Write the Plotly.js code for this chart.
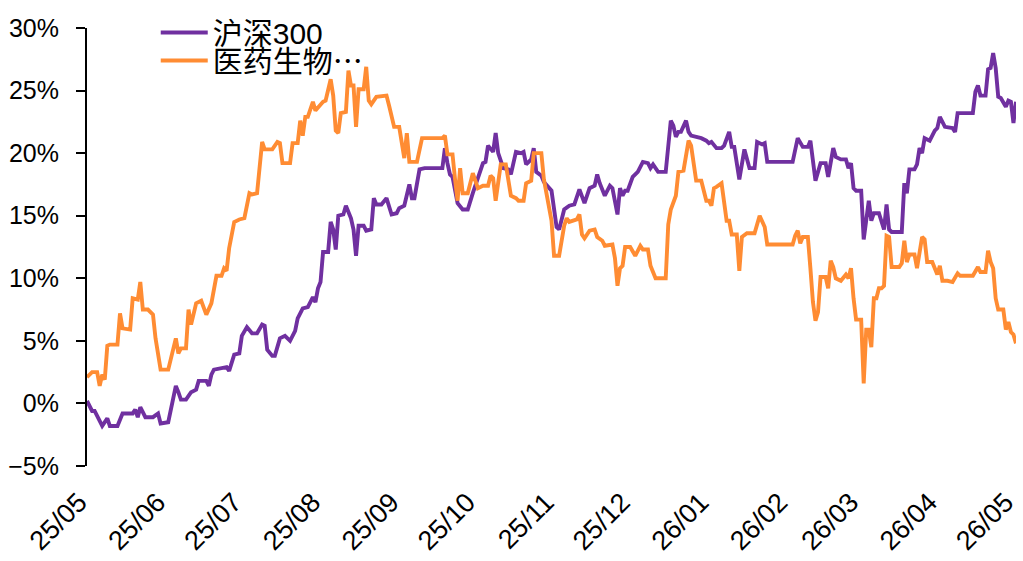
<!DOCTYPE html>
<html>
<head>
<meta charset="utf-8">
<script src="https://cdn.plot.ly/plotly-3.0.1.min.js"></script>
<style>
  html, body { margin: 0; padding: 0; background: #ffffff; }
  #chart { width: 1023px; height: 561px; }
</style>
</head>
<body>
<div id="chart"></div>
<script>
// Cumulative return (%) of the CSI 300 index
const hs300Dates = [
  '2025-05-01','2025-05-03','2025-05-04','2025-05-07','2025-05-09','2025-05-10','2025-05-13','2025-05-15','2025-05-19','2025-05-20',
  '2025-05-21','2025-05-22','2025-05-24','2025-05-27','2025-05-29','2025-05-30','2025-06-02','2025-06-05','2025-06-06','2025-06-07',
  '2025-06-09','2025-06-11','2025-06-13','2025-06-14','2025-06-17','2025-06-18','2025-06-19','2025-06-20','2025-06-25','2025-06-26',
  '2025-06-28','2025-06-30','2025-07-01','2025-07-03','2025-07-05','2025-07-07','2025-07-09','2025-07-10','2025-07-11','2025-07-13',
  '2025-07-14','2025-07-16','2025-07-18','2025-07-20','2025-07-22','2025-07-23','2025-07-25','2025-07-27','2025-07-29','2025-07-30',
  '2025-07-31','2025-08-01','2025-08-02','2025-08-04','2025-08-05','2025-08-06','2025-08-07','2025-08-08','2025-08-10','2025-08-11',
  '2025-08-13','2025-08-14','2025-08-15','2025-08-16','2025-08-18','2025-08-19','2025-08-21','2025-08-22','2025-08-23','2025-08-25',
  '2025-08-27','2025-08-29','2025-08-31','2025-09-01','2025-09-03','2025-09-05','2025-09-06','2025-09-07','2025-09-09','2025-09-11',
  '2025-09-18','2025-09-19','2025-09-20','2025-09-21','2025-09-22','2025-09-23','2025-09-24','2025-09-26','2025-09-28','2025-09-30',
  '2025-10-02','2025-10-04','2025-10-05','2025-10-06','2025-10-08','2025-10-09','2025-10-10','2025-10-12','2025-10-14','2025-10-15',
  '2025-10-17','2025-10-19','2025-10-20','2025-10-21','2025-10-23','2025-10-24','2025-10-25','2025-10-27','2025-10-28','2025-10-29',
  '2025-10-31','2025-11-02','2025-11-03','2025-11-05','2025-11-07','2025-11-09','2025-11-11','2025-11-13','2025-11-15','2025-11-17',
  '2025-11-18','2025-11-19','2025-11-21','2025-11-23','2025-11-24','2025-11-26','2025-11-27','2025-11-28','2025-11-29','2025-11-30',
  '2025-12-02','2025-12-04','2025-12-06','2025-12-08','2025-12-09','2025-12-10','2025-12-12','2025-12-15','2025-12-17','2025-12-18',
  '2025-12-19','2025-12-20','2025-12-21','2025-12-23','2025-12-24','2025-12-25','2025-12-27','2025-12-29','2025-12-31','2026-01-01',
  '2026-01-02','2026-01-04','2026-01-06','2026-01-07','2026-01-09','2026-01-10','2026-01-11','2026-01-13','2026-01-15','2026-01-16',
  '2026-01-17','2026-01-19','2026-01-20','2026-01-22','2026-01-23','2026-01-24','2026-02-03','2026-02-05','2026-02-06','2026-02-07',
  '2026-02-09','2026-02-10','2026-02-12','2026-02-14','2026-02-16','2026-02-17','2026-02-19','2026-02-20','2026-02-22','2026-02-24',
  '2026-02-25','2026-02-26','2026-02-27','2026-02-28','2026-03-02','2026-03-03','2026-03-05','2026-03-06','2026-03-07','2026-03-09',
  '2026-03-11','2026-03-12','2026-03-13','2026-03-14','2026-03-18','2026-03-19','2026-03-20','2026-03-21','2026-03-23','2026-03-24',
  '2026-03-25','2026-03-26','2026-03-27','2026-03-29','2026-03-31','2026-04-01','2026-04-02','2026-04-04','2026-04-07','2026-04-08',
  '2026-04-09','2026-04-15','2026-04-16','2026-04-17','2026-04-18','2026-04-20','2026-04-21','2026-04-22','2026-04-23','2026-04-24',
  '2026-04-25','2026-04-26','2026-04-28','2026-04-29','2026-04-30','2026-05-01','2026-05-02'
];
const hs300Values = [
  0.2,-0.6,-0.6,-1.8,-1.2,-1.8,-1.8,-0.8,-0.8,-0.5,
  -1.1,-0.3,-1.1,-1.1,-0.8,-1.6,-1.5,1.4,0.9,0.3,
  0.3,0.9,1.1,1.8,1.8,1.4,2.3,2.7,2.9,2.6,
  3.9,4.0,5.4,6.1,5.6,5.6,6.3,6.2,4.3,3.8,
  3.8,5.2,5.4,5.0,5.8,6.8,7.6,7.7,8.5,8.1,
  9.2,9.7,12.1,12.1,14.5,13.9,12.3,15.0,15.1,15.8,
  14.8,13.9,11.8,14.2,14.2,13.8,13.9,16.4,15.9,15.9,
  16.4,15.1,15.2,15.6,15.8,17.5,16.4,16.4,18.7,18.8,
  18.8,20.4,19.2,18.3,18.1,16.8,16.0,15.5,15.5,16.8,
  18.0,19.2,19.3,20.6,20.1,21.6,20.0,18.8,18.7,18.3,
  20.1,20.0,20.1,19.1,19.5,20.4,18.5,18.2,17.7,17.5,
  17.0,14.1,13.9,15.5,15.8,15.9,17.1,16.0,17.2,17.4,
  18.3,17.6,16.6,17.4,17.2,15.1,17.2,16.6,17.0,17.0,
  18.1,18.5,19.3,19.2,18.8,19.1,18.5,18.5,22.6,22.2,
  21.3,21.7,21.7,22.6,21.7,21.4,21.3,21.2,21.0,20.8,
  20.9,20.4,20.4,20.6,21.7,20.5,20.5,17.9,20.3,19.5,
  18.8,18.8,20.9,20.7,20.8,19.3,19.3,21.2,20.9,20.5,
  20.5,21.0,17.8,19.2,19.2,18.1,20.4,19.7,19.5,19.5,
  18.8,19.2,17.2,17.0,17.0,13.1,16.2,14.6,15.2,15.2,
  13.9,15.9,13.9,13.7,13.7,17.6,16.8,18.7,18.7,19.1,
  20.4,20.0,21.2,21.0,21.8,22.0,22.9,22.1,22.0,21.7,
  23.2,23.2,24.9,25.4,24.6,24.6,26.7,26.8,28.0,26.8,
  24.5,24.4,23.7,24.2,24.1,22.4,24.1
];

// Cumulative return (%) of the pharma & biotech sector index
const medDates = [
  '2025-05-01','2025-05-03','2025-05-05','2025-05-06','2025-05-07','2025-05-08','2025-05-09','2025-05-10','2025-05-13','2025-05-14',
  '2025-05-15','2025-05-18','2025-05-19','2025-05-21','2025-05-22','2025-05-23','2025-05-25','2025-05-27','2025-05-28','2025-05-30',
  '2025-06-02','2025-06-04','2025-06-05','2025-06-06','2025-06-07','2025-06-09','2025-06-10','2025-06-11','2025-06-13','2025-06-15',
  '2025-06-17','2025-06-19','2025-06-21','2025-06-23','2025-06-24','2025-06-25','2025-06-26','2025-06-28','2025-06-30','2025-07-02',
  '2025-07-04','2025-07-05','2025-07-07','2025-07-09','2025-07-10','2025-07-13','2025-07-15','2025-07-16','2025-07-17','2025-07-20',
  '2025-07-21','2025-07-23','2025-07-24','2025-07-25','2025-07-26','2025-07-27','2025-07-29','2025-07-30','2025-08-02','2025-08-03',
  '2025-08-05','2025-08-06','2025-08-07','2025-08-08','2025-08-09','2025-08-11','2025-08-12','2025-08-13','2025-08-14','2025-08-15',
  '2025-08-16','2025-08-18','2025-08-19','2025-08-20','2025-08-21','2025-08-23','2025-08-27','2025-08-28','2025-08-30','2025-09-01',
  '2025-09-02','2025-09-03','2025-09-04','2025-09-05','2025-09-08','2025-09-10','2025-09-18','2025-09-19','2025-09-20','2025-09-22',
  '2025-09-23','2025-09-24','2025-09-25','2025-09-26','2025-09-28','2025-09-30','2025-10-02','2025-10-04','2025-10-06','2025-10-07',
  '2025-10-08','2025-10-09','2025-10-11','2025-10-13','2025-10-15','2025-10-17','2025-10-18','2025-10-20','2025-10-21','2025-10-23',
  '2025-10-24','2025-10-27','2025-10-28','2025-10-30','2025-10-31','2025-11-01','2025-11-03','2025-11-05','2025-11-06','2025-11-07',
  '2025-11-10','2025-11-11','2025-11-12','2025-11-13','2025-11-15','2025-11-17','2025-11-18','2025-11-20','2025-11-21','2025-11-24',
  '2025-11-25','2025-11-26','2025-11-27','2025-11-28','2025-11-29','2025-12-01','2025-12-03','2025-12-05','2025-12-06','2025-12-08',
  '2025-12-09','2025-12-11','2025-12-15','2025-12-16','2025-12-17','2025-12-19','2025-12-20','2025-12-22','2025-12-23','2025-12-24',
  '2025-12-25','2025-12-27','2025-12-29','2025-12-31','2026-01-01','2026-01-02','2026-01-03','2026-01-04','2026-01-06','2026-01-08',
  '2026-01-09','2026-01-10','2026-01-12','2026-01-13','2026-01-14','2026-01-16','2026-01-19','2026-01-21','2026-01-23','2026-01-24',
  '2026-02-03','2026-02-04','2026-02-05','2026-02-06','2026-02-07','2026-02-09','2026-02-10','2026-02-11','2026-02-12','2026-02-13',
  '2026-02-14','2026-02-16','2026-02-17','2026-02-18','2026-02-19','2026-02-20','2026-02-22','2026-02-24','2026-02-25','2026-02-26',
  '2026-02-27','2026-02-28','2026-03-02','2026-03-03','2026-03-04','2026-03-05','2026-03-06','2026-03-07','2026-03-08','2026-03-09',
  '2026-03-10','2026-03-11','2026-03-12','2026-03-13','2026-03-14','2026-03-17','2026-03-18','2026-03-19','2026-03-20','2026-03-21',
  '2026-03-23','2026-03-24','2026-03-26','2026-03-27','2026-03-28','2026-03-30','2026-04-01','2026-04-02','2026-04-03','2026-04-05',
  '2026-04-07','2026-04-09','2026-04-10','2026-04-15','2026-04-17','2026-04-18','2026-04-20','2026-04-21','2026-04-22','2026-04-23',
  '2026-04-24','2026-04-25','2026-04-27','2026-04-28','2026-04-29','2026-04-30','2026-05-01','2026-05-02'
];
const medValues = [
  2.1,2.5,2.5,1.4,2.3,1.9,4.6,4.7,4.7,7.2,
  6.0,5.9,8.4,8.3,9.7,7.5,7.5,7.1,5.2,2.7,
  2.7,4.4,5.2,4.0,4.4,4.4,7.5,6.3,8.0,8.2,
  7.1,8.0,10.2,10.2,10.8,10.6,12.4,14.5,14.7,14.8,
  16.8,16.7,16.8,20.9,20.3,20.3,20.9,20.8,19.2,19.2,
  20.8,20.8,22.6,21.4,22.9,22.9,24.1,23.4,24.1,24.2,
  25.9,24.6,21.8,21.6,23.2,23.3,26.6,25.4,25.4,22.1,
  25.1,25.1,26.9,24.2,23.9,24.5,24.6,23.8,22.1,22.1,
  21.0,19.6,21.6,19.3,19.3,21.2,21.2,21.4,19.9,19.9,
  17.9,16.2,18.8,16.8,16.8,18.4,17.2,17.4,17.4,18.2,
  18.0,16.2,19.1,19.1,16.6,16.4,16.2,16.2,17.6,17.8,
  20.0,20.0,17.9,15.6,14.6,11.8,11.8,14.2,14.8,14.5,
  14.7,15.1,13.5,13.2,13.8,13.9,13.3,13.0,12.6,12.7,
  11.6,9.4,10.8,11.0,12.5,12.5,11.8,12.6,12.3,12.3,
  11.0,10.0,10.0,14.3,15.5,16.6,18.5,18.6,19.9,21.0,
  20.6,17.8,17.8,16.2,16.2,15.8,17.2,17.3,17.6,14.6,
  14.6,13.5,13.5,10.6,13.3,13.6,13.6,15.0,14.1,12.7,
  12.7,13.4,13.8,12.8,13.3,13.3,10.8,8.1,6.6,7.3,
  10.1,10.1,9.2,11.4,10.9,10.0,9.8,10.3,10.0,10.8,
  8.4,6.7,6.7,1.6,5.9,5.9,4.5,8.4,8.4,9.2,
  9.2,9.4,13.4,13.3,10.9,10.9,11.2,13.0,11.3,11.9,
  11.9,10.8,13.3,13.1,11.3,11.3,10.3,11.0,9.8,9.8,
  9.7,10.4,10.2,10.2,10.9,10.5,10.5,12.2,11.3,10.8,
  8.4,7.5,7.5,5.9,6.5,5.7,5.5,4.8
];

// Axis ticks
const monthTicks = [
  '2025-05-01','2025-06-01','2025-07-01','2025-08-01','2025-09-01','2025-10-01','2025-11-01',
  '2025-12-01','2026-01-01','2026-02-01','2026-03-01','2026-04-01','2026-05-01'
];
const monthLabels = ['25/05','25/06','25/07','25/08','25/09','25/10','25/11','25/12','26/01','26/02','26/03','26/04','26/05'];
const yTicks = [-5, 0, 5, 10, 15, 20, 25, 30];
const yTickLabels = yTicks.map(v => (v < 0 ? '\u2212' + Math.abs(v) : String(v)) + '%');

const seriesNames = ['沪深300', '医药生物⋯'];
const seriesColors = ['#7030A0', '#FF8C33'];

const xRange = ['2025-05-01', '2026-05-02'];
const yRange = [-5, 30];
const baseFont = 'Liberation Sans, Arial, Noto Sans CJK SC, sans-serif';

const traces = [
  {
    type: 'scatter', mode: 'lines', name: seriesNames[0],
    x: hs300Dates, y: hs300Values,
    line: { color: seriesColors[0], width: 3.9 },
    legend: 'legend', hoverinfo: 'skip'
  },
  {
    type: 'scatter', mode: 'lines', name: seriesNames[1],
    x: medDates, y: medValues,
    line: { color: seriesColors[1], width: 3.9 },
    legend: 'legend2', hoverinfo: 'skip'
  }
];

const legendCommon = {
  xanchor: 'left', yanchor: 'top',
  bgcolor: 'rgba(0,0,0,0)', borderwidth: 0,
  itemwidth: 47,
  font: { family: baseFont, size: 30, color: '#000000' }
};

const layout = {
  width: 1023, height: 561,
  margin: { l: 87, r: 7, t: 24, b: 95, pad: 0 },
  paper_bgcolor: '#ffffff', plot_bgcolor: '#ffffff',
  font: { family: baseFont, color: '#000000' },
  showlegend: true,
  legend: Object.assign({ x: 0.074, y: 1.049 }, legendCommon),
  legend2: Object.assign({ x: 0.074, y: 0.985 }, legendCommon),
  xaxis: {
    type: 'date', range: xRange,
    tickmode: 'array', tickvals: monthTicks, ticktext: monthLabels,
    tickangle: -45, ticks: '', showline: false,
    showgrid: false, zeroline: false,
    ticklabelstandoff: 14, ticklabelshift: -8,
    ticklabeloverflow: 'allow',
    tickfont: { family: baseFont, size: 27, color: '#000000' }
  },
  // horizontal axis line drawn through 0% with month tick marks
  xaxis2: {
    type: 'date', range: xRange, overlaying: 'x',
    anchor: 'free', position: (0 - yRange[0]) / (yRange[1] - yRange[0]),
    tickmode: 'array', tickvals: monthTicks,
    showticklabels: false, ticks: 'outside', ticklen: 9, tickwidth: 2, tickcolor: '#000000',
    showline: true, linewidth: 2, linecolor: '#000000',
    showgrid: false, zeroline: false
  },
  yaxis: {
    range: yRange, tickmode: 'array', tickvals: yTicks, ticktext: yTickLabels,
    ticks: 'outside', ticklen: 9, tickwidth: 2, tickcolor: '#000000',
    showline: true, linewidth: 2, linecolor: '#000000',
    showgrid: false, zeroline: false,
    ticklabelstandoff: 12,
    tickfont: { family: baseFont, size: 25, color: '#000000' }
  }
};

Plotly.newPlot('chart', traces, layout, { staticPlot: true, displayModeBar: false });
</script>
</body>
</html>
